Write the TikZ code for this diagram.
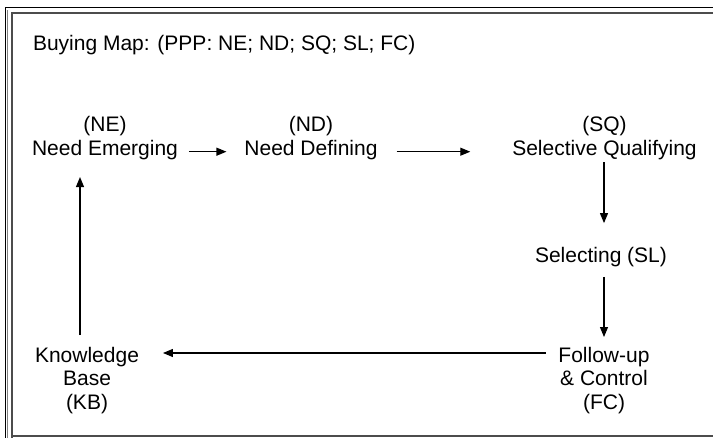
\documentclass[tikz,border=0pt]{standalone}
\usepackage{fontspec}
\setmainfont{Liberation Sans}
\usetikzlibrary{arrows.meta}
\begin{document}
\begin{tikzpicture}[x=1pt,y=-1pt,
  lbl/.style={align=center,inner sep=0pt,outer sep=0pt,font=\fontsize{21}{23.3}\selectfont},
  conn/.style={line width=1.1pt,-{Triangle[length=10pt,width=8pt]}}]
\useasboundingbox (0,0) rectangle (713,438);
% frame
\draw[line width=1pt] (5.5,440) -- (5.5,8) -- (720,8);
\draw[line width=0.6pt,gray] (7.5,440) -- (7.5,10);
\draw[line width=2pt,black!70] (11.5,440) -- (11.5,13.5) -- (720,13.5);
\draw[line width=2pt,black!70] (11.5,436.5) -- (720,436.5);
% title
\node[lbl,anchor=base west] (title) at (33,50.5) {Buying Map: (PPP: NE; ND; SQ; SL; FC)};
% nodes
\node[lbl] (ne) at (105,138) {(NE)\\Need Emerging};
\node[lbl] (nd) at (311,138) {(ND)\\Need Defining};
\node[lbl] (sq) at (604.5,138) {(SQ)\\Selective Qualifying};
\node[lbl] (sl) at (601,257.5) {Selecting (SL)};
\node[lbl] (fc) at (604,380.4) {Follow-up\\\& Control\\(FC)};
\node[lbl] (kb) at (87,380.4) {Knowledge\\Base\\(KB)};
% connectors
\draw[conn] ([xshift=11pt,yshift=-13.7pt]ne.east) -- ([xshift=-18pt,yshift=-13.7pt]nd.west);
\draw[conn] ([xshift=19pt,yshift=-13.7pt]nd.east) -- ([xshift=-42pt,yshift=-13.7pt]sq.west);
\draw[conn] ([xshift=-0.5pt,yshift=-2.6pt]sq.south) -- ([xshift=3pt,yshift=24.6pt]sl.north);
\draw[conn] ([xshift=3pt,yshift=-9.6pt]sl.south) -- ([yshift=10.3pt]fc.north);
\draw[conn] ([xshift=-12.5pt,yshift=27.4pt]fc.west) -- ([xshift=24pt,yshift=27.4pt]kb.east);
\draw[conn] ([xshift=-7pt,yshift=12.3pt]kb.north) -- ([xshift=-25pt,yshift=-17.6pt]ne.south);
\end{tikzpicture}
\end{document}
